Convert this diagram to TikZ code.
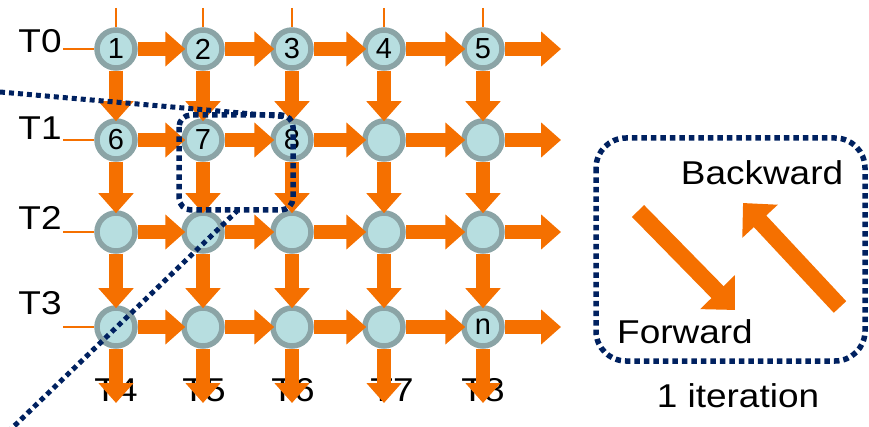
\documentclass[tikz,border=0pt]{standalone}
\usepackage{fontspec}
\setmainfont{Liberation Sans}
\usetikzlibrary{arrows.meta}
\definecolor{arr}{RGB}{245,112,0}
\definecolor{navy}{RGB}{0,33,96}
\definecolor{nfill}{RGB}{183,222,224}
\definecolor{nring}{RGB}{139,164,166}
\begin{document}
\begin{tikzpicture}[x=1pt,y=-1pt,
  cell/.style={circle,fill=nfill,draw=nring,line width=5.5pt,minimum size=38pt,inner sep=0pt,
    font=\fontsize{29}{30}\selectfont},
  big/.style={inner sep=0pt,font=\fontsize{33}{38}\selectfont,xscale=1.12},
  grarrow/.style={draw=arr,line width=14pt,-{Triangle[length=20pt,width=34pt]}},
  diag/.style={draw=arr,line width=17pt,-{Triangle[length=25pt,width=47pt]}},
  thin/.style={draw=arr,line width=1.3pt},
  dline/.style={draw=navy,line width=5pt,dash pattern=on 5pt off 4pt},
  dbox/.style={draw=navy,line width=5.5pt,dash pattern=on 5.5pt off 4pt}]
\useasboundingbox (0,0) rectangle (869,427);
% side labels
\node[big] (t0) at (40,41) {T0};
\node[big] (t1) at (40,128) {T1};
\node[big] (t2) at (40,218) {T2};
\node[big] (t3) at (40,303) {T3};
\node[big] (t4) at (116,390) {T4};
\node[big] (t5) at (204,390) {T5};
\node[big] (t6) at (293,390) {T6};
\node[big] (t7) at (392,390) {T7};
\node[big] (t8) at (483,390) {T8};
% grid nodes
\foreach \r/\y in {0/49,1/140,2/232,3/327}{
  \foreach \c/\x in {1/116,2/203,3/292,4/384,5/483}{
    \coordinate (p-\r-\c) at (\x,\y);
  }
}
\node[cell] (n-0-1) at (p-0-1) {1};
\node[cell] (n-0-2) at (p-0-2) {2};
\node[cell] (n-0-3) at (p-0-3) {3};
\node[cell] (n-0-4) at (p-0-4) {4};
\node[cell] (n-0-5) at (p-0-5) {5};
\node[cell] (n-1-1) at (p-1-1) {6};
\node[cell] (n-1-2) at (p-1-2) {7};
\node[cell] (n-1-3) at (p-1-3) {8};
\node[cell] (n-1-4) at (p-1-4) {};
\node[cell] (n-1-5) at (p-1-5) {};
\foreach \c in {1,...,5}{ \node[cell] (n-2-\c) at (p-2-\c) {}; }
\foreach \c in {1,...,4}{ \node[cell] (n-3-\c) at (p-3-\c) {}; }
\node[cell] (n-3-5) at (p-3-5) {n};
% thin lines
\foreach \c/\x in {1/116,2/203,3/292,4/384,5/483}{
  \coordinate (top-\c) at (\x,8);
  \draw[thin] (top-\c) -- (n-0-\c.north);
}
\foreach \r/\y in {0/49,1/140,2/232,3/327}{
  \coordinate (lft-\r) at (63,\y);
  \draw[thin] (lft-\r) -- (n-\r-1.west);
  \coordinate (e-\r) at (561,\y);
}
\foreach \c/\x in {1/116,2/203,3/292,4/384,5/483}{
  \coordinate (b-\c) at (\x,403);
}
% arrows
\foreach \r in {0,...,3}{
  \foreach \c/\d in {1/2,2/3,3/4,4/5}{
    \draw[grarrow,shorten >=-4pt] (n-\r-\c) -- (n-\r-\d);
  }
  \draw[grarrow] (n-\r-5) -- (e-\r);
}
\foreach \c in {1,...,5}{
  \foreach \r/\s in {0/1,1/2,2/3}{
    \draw[grarrow,shorten >=-3pt] (n-\r-\c) -- (n-\s-\c);
  }
  \draw[grarrow] (n-3-\c) -- (b-\c);
}
% dotted zoom box and lines
\coordinate (za) at (0,92);
\coordinate (zb) at (287,117);
\coordinate (zc) at (8,432);
\coordinate (zd) at (237,211);
\begin{scope}
\clip (0,0) rectangle (869,427);
\draw[dline] (za) -- (zb);
\draw[dline] (zc) -- (zd);
\end{scope}
\draw[dbox,rounded corners=12pt] (179,115) rectangle (293,210);
% legend box
\draw[dbox,rounded corners=30pt] (596,138) rectangle (865,361);
\coordinate (fa) at (638,211);
\coordinate (fb) at (735,310);
\coordinate (ba) at (840,307);
\coordinate (bb) at (743,203);
\draw[diag] (fa) -- (fb);
\draw[diag] (ba) -- (bb);
\node[big] (bw) at (762,173) {Backward};
\node[big] (fw) at (685,332) {Forward};
\node[big] (it) at (738,396) {1 iteration};
\end{tikzpicture}
\end{document}
